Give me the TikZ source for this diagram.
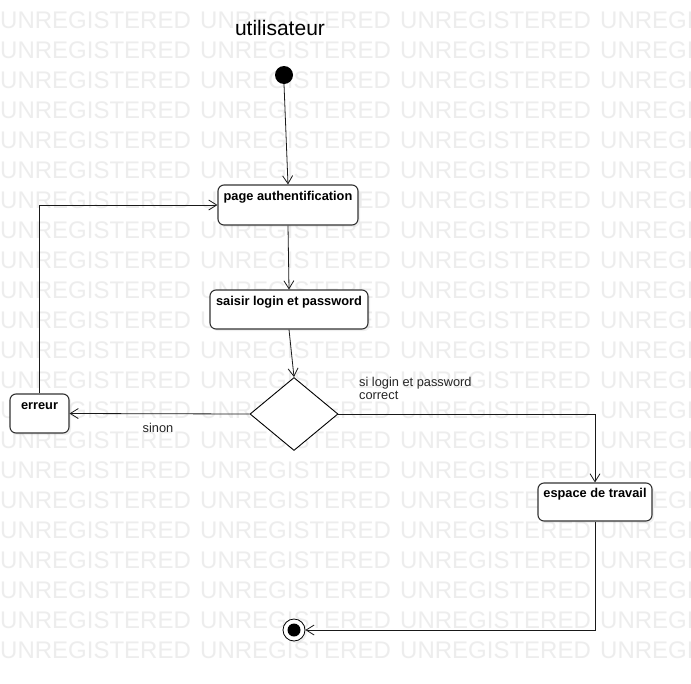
\documentclass[tikz,border=0pt]{standalone}
\usepackage{fontspec}
\setmainfont{Liberation Sans}
\usetikzlibrary{arrows.meta,shapes.geometric,shadows,calc}
\definecolor{wmgray}{HTML}{EDEDED}
\definecolor{boxline}{HTML}{333333}
\tikzset{
  wm/.style={font=\fontsize{24}{24}\selectfont, text=wmgray, inner sep=0pt, anchor=base west},
  statebox/.style={draw=boxline, line width=1.1pt, rounded corners=6pt, fill=white,
    drop shadow={opacity=0.12, shadow xshift=2pt, shadow yshift=-2pt},
    inner sep=0pt},
  boxtext/.style={font=\bfseries\fontsize{12.8}{14}\selectfont},
  decision/.style={draw=black, line width=0.9pt, diamond, fill=white, aspect=1.2, inner sep=0pt,
    minimum width=88pt, minimum height=73pt},
  flow/.style={draw=black!90, line width=0.8pt, -{Straight Barb[length=8pt,width=10pt,line width=0.8pt]}},
  lbl/.style={font=\fontsize{12.8}{13}\selectfont, text=black!85, inner sep=0pt}
}
\begin{document}
\begin{tikzpicture}[x=1pt,y=-1pt]
\useasboundingbox (0,0) rectangle (691,683);
\clip (0,0) rectangle (691,683);
\fill[white] (0,0) rectangle (691,683);
% watermark
\foreach \r in {0,...,21}{
  \foreach \c in {0,200,400,600}{
    \node[wm] (wm-\r-\c) at (\c,{28+30*\r}) {UNREGISTERED};
  }
}
% title
\node[font=\fontsize{21}{24}\selectfont, inner sep=0pt] (title) at (280,28) {utilisateur};
% initial and final
\node[circle, fill=black, minimum size=18pt, inner sep=0pt] (start) at (284,75) {};
\node[circle, draw=black, line width=0.8pt, fill=white, minimum size=22pt, inner sep=0pt,
  drop shadow={opacity=0.12, shadow xshift=2pt, shadow yshift=-2pt}] (end) at (294,630) {};
\node[circle, fill=black, minimum size=13pt, inner sep=0pt] (endin) at (294,630) {};
% states
\node[statebox, minimum width=140pt, minimum height=40pt,
  label={[boxtext, anchor=center, yshift=-13pt]north:page authentification}] (auth) at (288,205) {};
\node[statebox, minimum width=158pt, minimum height=39pt,
  label={[boxtext, anchor=center, yshift=-13pt]north:saisir login et password}] (saisir) at (289,309.5) {};
\node[statebox, minimum width=59pt, minimum height=39pt,
  label={[boxtext, anchor=center, yshift=-13pt]north:erreur}] (erreur) at (39.5,413.5) {};
\node[statebox, minimum width=114pt, minimum height=38pt,
  label={[boxtext, anchor=center, yshift=-12pt]north:espace de travail}] (espace) at (595,502) {};
\node[decision] (dec) at (294,414) {};
% connectors
\draw[flow] (start.south) -- (auth.north);
\draw[flow] (auth.south) -- (saisir.north);
\draw[flow] (saisir.south) -- (dec.north);
\draw[flow] (dec.west) -- (erreur.east);
\draw[flow] (erreur.north) |- (auth.west);
\draw[flow] (dec.east) -| (espace.north);
\draw[flow] (espace.south) |- (end.east);
% labels
\node[lbl] (sinon) at (158,428) {sinon};
\node[lbl, anchor=north west, align=left] (oklbl) at (359,377) {si login et password\\correct};
\end{tikzpicture}
\end{document}
